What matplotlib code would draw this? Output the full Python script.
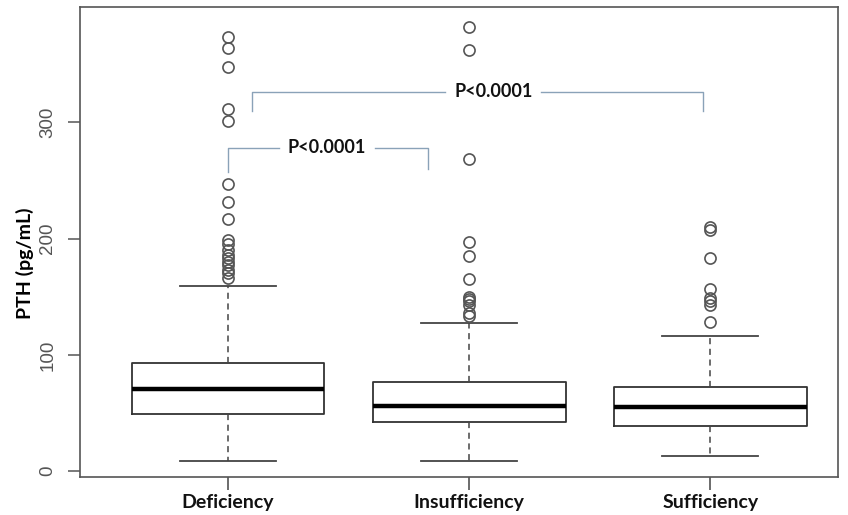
import matplotlib
matplotlib.use("Agg")
import matplotlib.pyplot as plt

categories = ["Deficiency", "Insufficiency", "Sufficiency"]
whisker_low = [9, 9, 13]
q1 = [49, 42, 39]
median = [70.5, 56, 55]
q3 = [93, 77, 72]
whisker_high = [159, 127, 116]
outliers = [
    [373, 364, 347, 311, 301, 247, 231, 217, 199, 195, 190, 186, 183, 180, 177, 173, 170, 166],
    [382, 362, 268, 197, 185, 165, 150, 148, 146, 143, 136, 133],
    [210, 207, 183, 157, 149, 146, 143, 128],
]
yticks = [0, 100, 200, 300]
p_label = "P<0.0001"
# brackets: (x_left, x_right, y_top, y_left_end, y_right_end, text_x)
brackets = [
    (1.0, 1.83, 278, 257, 260, 1.41),
    (1.10, 2.97, 326, 310, 310, 2.10),
]

fig = plt.figure(figsize=(8.48, 5.15), dpi=100)
ax = fig.add_axes([80/848, (515-477)/515, (838-80)/848, (477-7)/515])

stats = []
for i, c in enumerate(categories):
    stats.append(dict(label=c, whislo=whisker_low[i], q1=q1[i], med=median[i],
                      q3=q3[i], whishi=whisker_high[i], fliers=outliers[i]))

pos = [1, 2, 3]
ax.bxp(stats, positions=pos, widths=0.8, showfliers=True,
       boxprops=dict(color="#333333", linewidth=1.3),
       medianprops=dict(color="black", linewidth=3.2),
       whiskerprops=dict(color="#444444", linewidth=1.1, linestyle=(0, (4, 3))),
       capprops=dict(color="#444444", linewidth=1.3),
       capwidths=0.4,
       flierprops=dict(marker="o", markersize=8, markerfacecolor="none",
                       markeredgecolor="#555555", markeredgewidth=1.2))

ax.set_xlim(0.386, 3.53)
ax.set_ylim(-5, 399)
ax.set_yticks(yticks)
ax.set_yticklabels([str(t) for t in yticks], rotation=90, va="center",
                   fontsize=13.5, color="#555555", family="Liberation Sans")
ax.set_xticks(pos)
ax.set_xticklabels(categories, fontsize=14, fontweight="bold", family="Lato", color="#111111")
ax.tick_params(axis="y", length=9, width=1.1, color="#555555", pad=8)
ax.tick_params(axis="x", length=9, width=1.1, color="#444444", pad=3)
for s in ax.spines.values():
    s.set_color("#555555")
    s.set_linewidth(1.2)

ax.set_ylabel("PTH (pg/mL)", fontsize=14, fontweight="bold", family="Lato")
ax.yaxis.set_label_coords((34 - 80) / 758, (477 - 263) / 470)

bc = "#8aa2b8"
for (xl, xr, yt, yl, yr, tx) in brackets:
    gap = 0.2
    ax.plot([xl, xl, tx - gap], [yl, yt, yt], color=bc, linewidth=1.0)
    ax.plot([tx + gap, xr, xr], [yt, yt, yr], color=bc, linewidth=1.0)
    ax.text(tx, yt, p_label, ha="center", va="center", fontsize=13,
            fontweight="bold", family="Lato", color="#111111")

fig.savefig("out.png", dpi=100)
